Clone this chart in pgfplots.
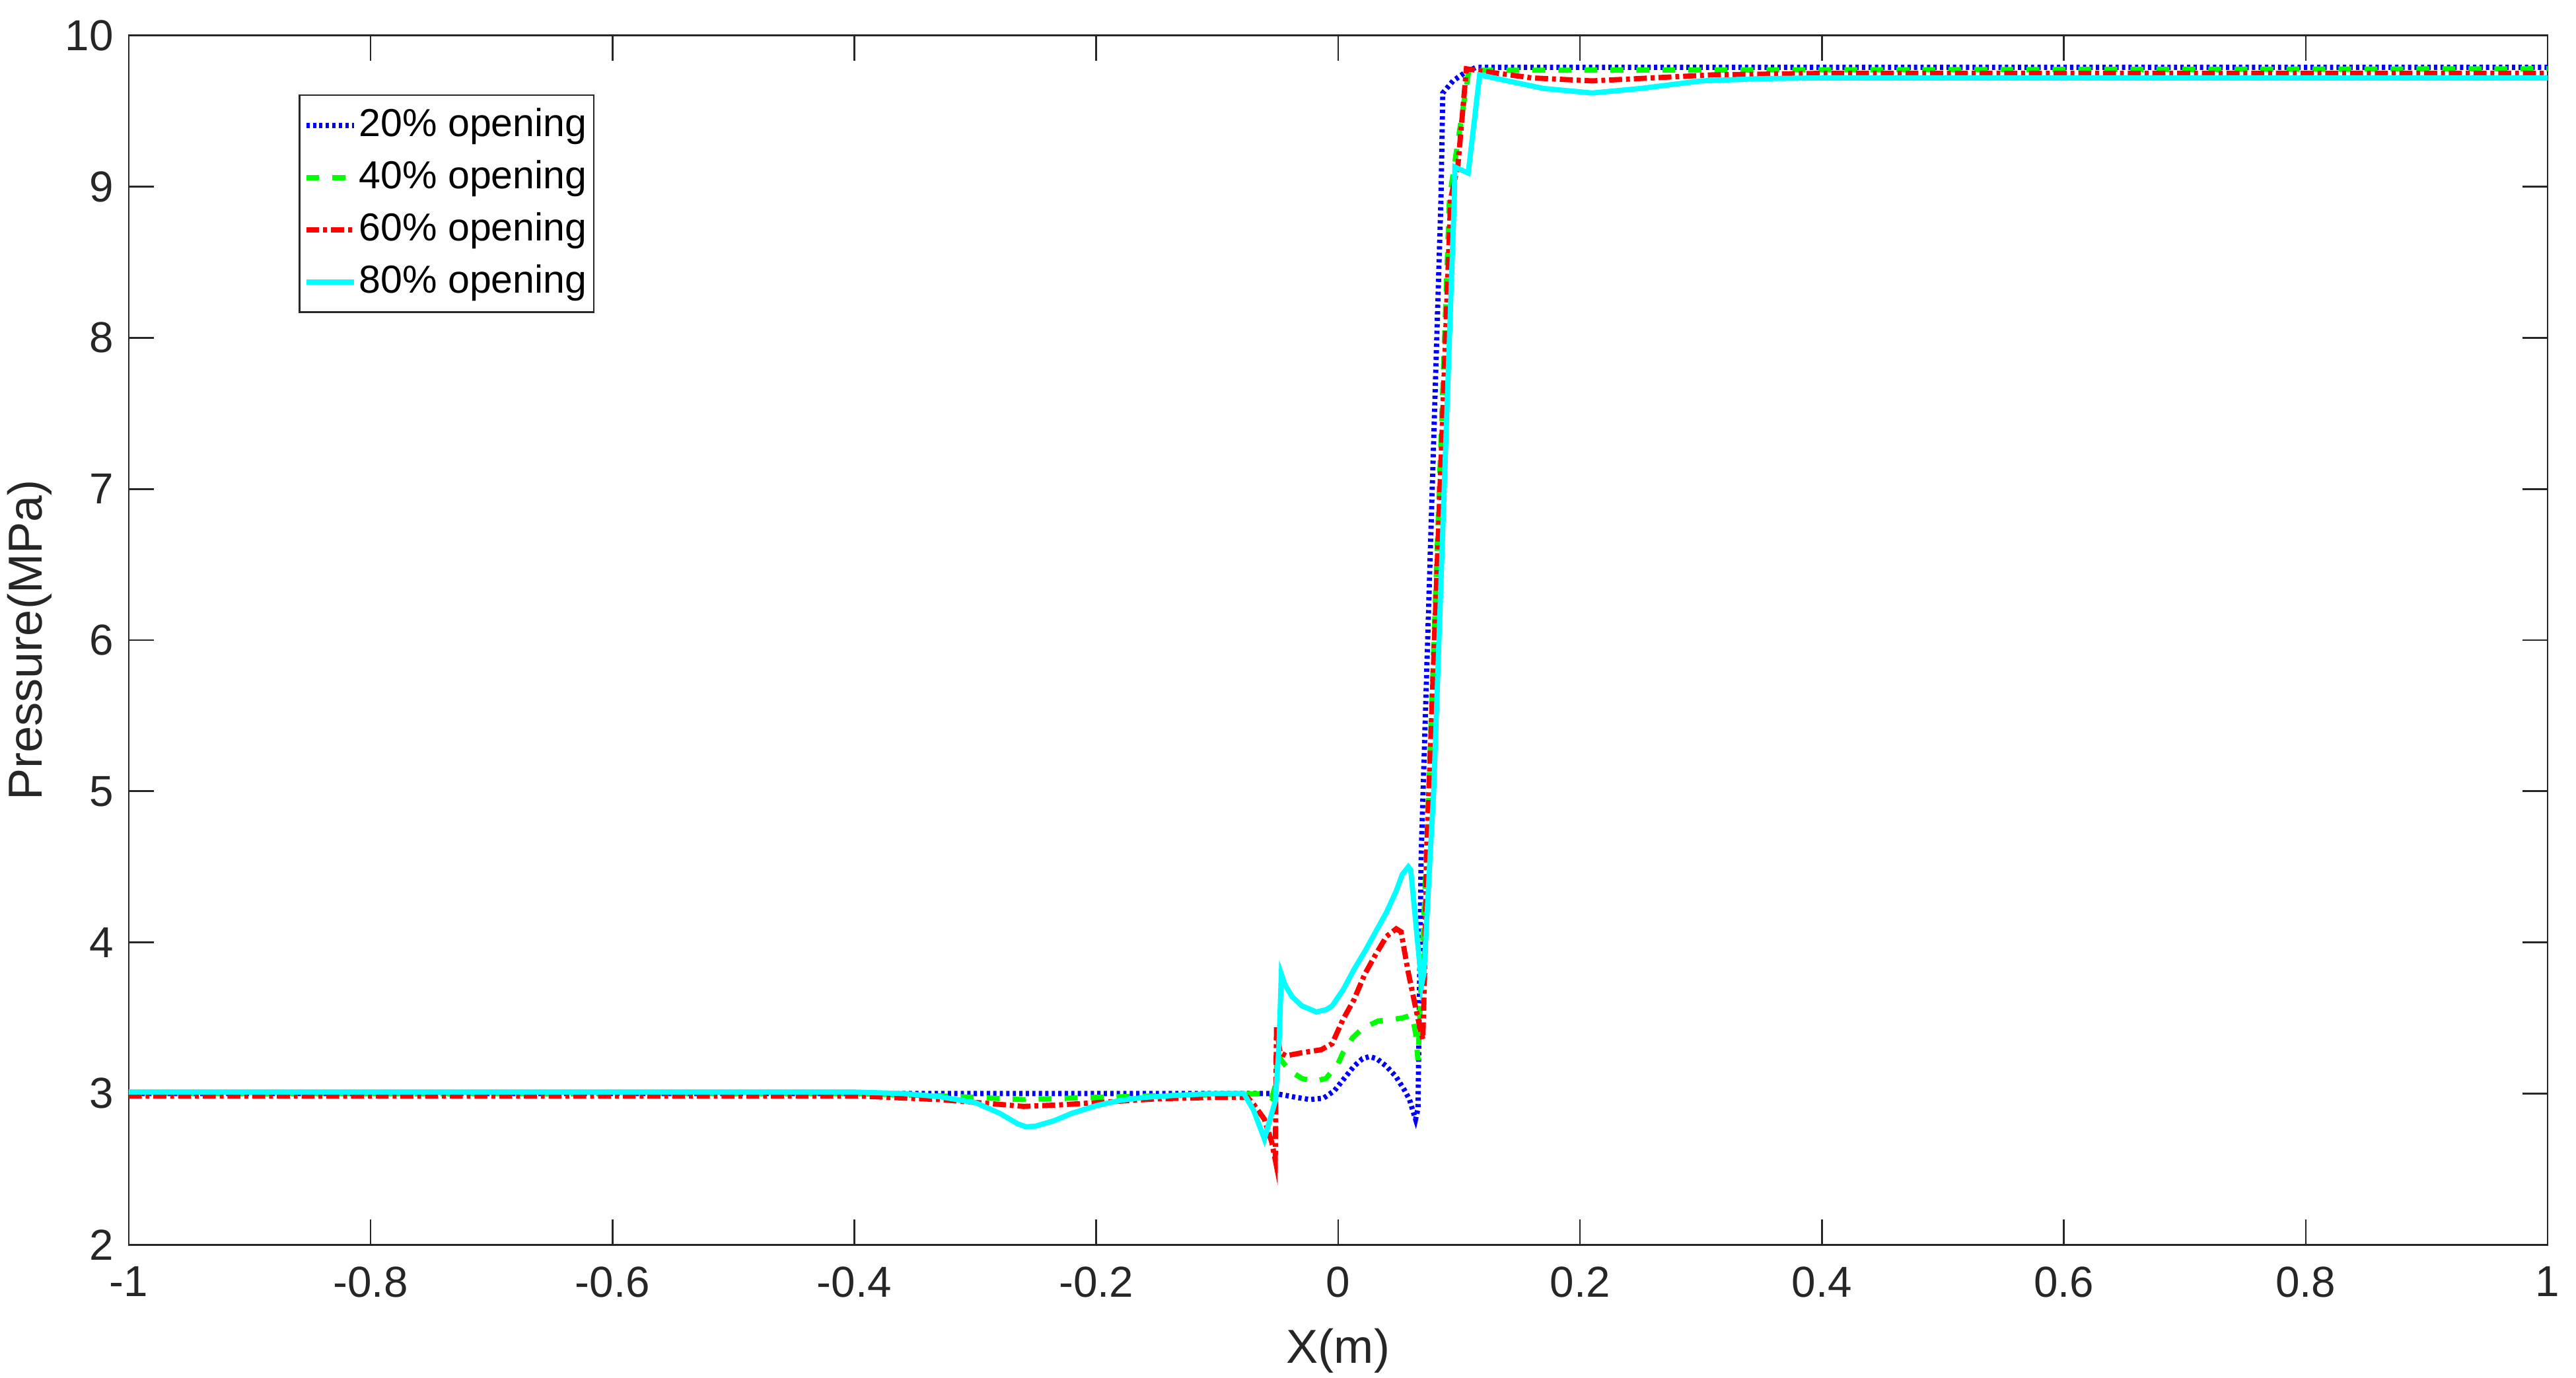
\documentclass[border=0pt]{standalone}
\usepackage{fontspec}
\setmainfont{Liberation Sans}
\usepackage{pgfplots}
\pgfplotsset{compat=1.18}
\definecolor{axgray}{rgb}{0.15,0.15,0.15}
\definecolor{mblue}{rgb}{0,0,1}
\definecolor{mgreen}{rgb}{0,1,0}
\definecolor{mred}{rgb}{1,0,0}
\definecolor{mcyan}{rgb}{0,1,1}

\begin{document}
\begin{tikzpicture}
\useasboundingbox (-29.7pt,-30.64pt) rectangle (564.75pt,287.2pt);
\begin{axis}[
  at={(0,0)}, anchor=south west,
  scale only axis, width=558.2pt, height=279pt,
  xmin=-1, xmax=1, ymin=2, ymax=10,
  xtick={-1,-0.8,-0.6,-0.4,-0.2,0,0.2,0.4,0.6,0.8,1},
  ytick={2,3,4,5,6,7,8,9,10},
  tick align=inside, major tick length=5.8pt,
  axis line style={axgray, line width=0.4pt},
  every tick/.style={axgray, line width=0.4pt},
  tick label style={font=\fontsize{10}{12}\selectfont, text=axgray},
  /pgf/number format/assume math mode=true,
  xticklabel style={yshift=-1.5pt},
  xlabel={X(m)}, ylabel={Pressure(MPa)},
  label style={font=\fontsize{11}{13}\selectfont, text=axgray},
  xlabel style={at={([yshift=-24.5pt]axis description cs:0.5,0)}, anchor=center},
  ylabel style={at={([xshift=-22.9pt]axis description cs:0,0.5)}, anchor=center},
  legend style={at={(rel axis cs:0.0702,0.9514)}, anchor=north west,
    draw=axgray, line width=0.4pt, font=\fontsize{9}{11}\selectfont,
    inner xsep=1pt, inner ysep=1pt, nodes={inner xsep=0.6pt, inner ysep=2pt},
    row sep=0pt},
  legend cell align=left,
  legend image code/.code={\draw[#1] (0pt,0pt) -- (11pt,0pt);},
]
% 20% opening
\addplot[mblue, line width=1.2pt, dash pattern=on 0.75pt off 0.75pt] coordinates {
(-1,3.0) (-0.06,3.0) (-0.052,3.0) (-0.045,2.99) (-0.035,2.975) (-0.023,2.96)
(-0.012,2.97) (-0.003,3.02) (0.005,3.10) (0.013,3.18) (0.020,3.23) (0.026,3.245)
(0.032,3.23) (0.040,3.18) (0.048,3.11) (0.055,3.02) (0.059,2.96) (0.062,2.88)
(0.064,2.83) (0.066,2.9) (0.0686,4.57) (0.085,8.92) (0.0865,9.62) (0.095,9.70)
(0.104,9.75) (0.114,9.79) (1,9.79)};
\addlegendentry{20\% opening}
% 40% opening
\addplot[mgreen, line width=1.2pt, dash pattern=on 3pt off 3pt] coordinates {
(-1,3.0) (-0.40,3.0) (-0.33,2.985) (-0.26,2.96) (-0.20,2.975) (-0.12,2.99)
(-0.06,3.0) (-0.055,2.97) (-0.052,3.05) (-0.050,3.28) (-0.047,3.22) (-0.040,3.15)
(-0.030,3.10) (-0.020,3.08) (-0.010,3.10) (0.0,3.2) (0.004,3.27) (0.012,3.37)
(0.020,3.43) (0.033,3.48) (0.045,3.49) (0.053,3.50) (0.061,3.52) (0.064,3.40)
(0.066,3.22) (0.070,4.0) (0.073,4.57) (0.092,8.92) (0.099,9.3) (0.108,9.77)
(1,9.78)};
\addlegendentry{40\% opening}
% 60% opening
\addplot[mred, line width=1.2pt, dash pattern=on 3pt off 0.9pt on 0.9pt off 0.9pt] coordinates {
(-1,2.985) (-0.40,2.985) (-0.33,2.96) (-0.29,2.935) (-0.26,2.915) (-0.23,2.925)
(-0.20,2.94) (-0.15,2.965) (-0.10,2.975) (-0.075,2.975) (-0.070,2.93)
(-0.061,2.83) (-0.055,2.68) (-0.052,2.56) (-0.0515,3.0) (-0.051,3.44)
(-0.048,3.27) (-0.043,3.25) (-0.030,3.27) (-0.014,3.29) (-0.005,3.33)
(0.004,3.49) (0.013,3.62) (0.022,3.79) (0.031,3.92) (0.040,4.04) (0.048,4.09)
(0.052,4.07) (0.058,3.80) (0.064,3.57) (0.068,3.42) (0.070,3.36) (0.0715,3.8)
(0.073,4.57) (0.093,8.92) (0.099,9.14) (0.106,9.78) (0.123,9.76) (0.16,9.72)
(0.21,9.70) (0.26,9.72) (0.31,9.74) (0.40,9.75) (1,9.75)};
\addlegendentry{60\% opening}
% 80% opening
\addplot[mcyan, line width=1.2pt] coordinates {
(-1,3.01) (-0.40,3.01) (-0.36,3.0) (-0.33,2.98) (-0.30,2.94) (-0.28,2.87)
(-0.265,2.80) (-0.258,2.78) (-0.25,2.785) (-0.235,2.82) (-0.22,2.87)
(-0.20,2.92) (-0.18,2.955) (-0.16,2.975) (-0.13,2.99) (-0.10,3.0) (-0.078,3.0)
(-0.070,2.89) (-0.061,2.70) (-0.052,2.95) (-0.049,3.3) (-0.047,3.79)
(-0.044,3.72) (-0.038,3.64) (-0.030,3.58) (-0.018,3.54) (-0.010,3.555)
(-0.005,3.58) (0.004,3.685) (0.013,3.82) (0.022,3.94) (0.031,4.07) (0.040,4.20)
(0.048,4.34) (0.053,4.45) (0.058,4.50) (0.060,4.48) (0.069,3.72) (0.071,3.8)
(0.076,4.57) (0.079,5.0) (0.096,8.92) (0.0965,9.13) (0.1075,9.09) (0.117,9.74)
(0.14,9.70) (0.17,9.65) (0.21,9.62) (0.25,9.65) (0.30,9.70) (0.35,9.715)
(0.40,9.72) (1,9.72)};
\addlegendentry{80\% opening}
\end{axis}
\end{tikzpicture}
\end{document}
